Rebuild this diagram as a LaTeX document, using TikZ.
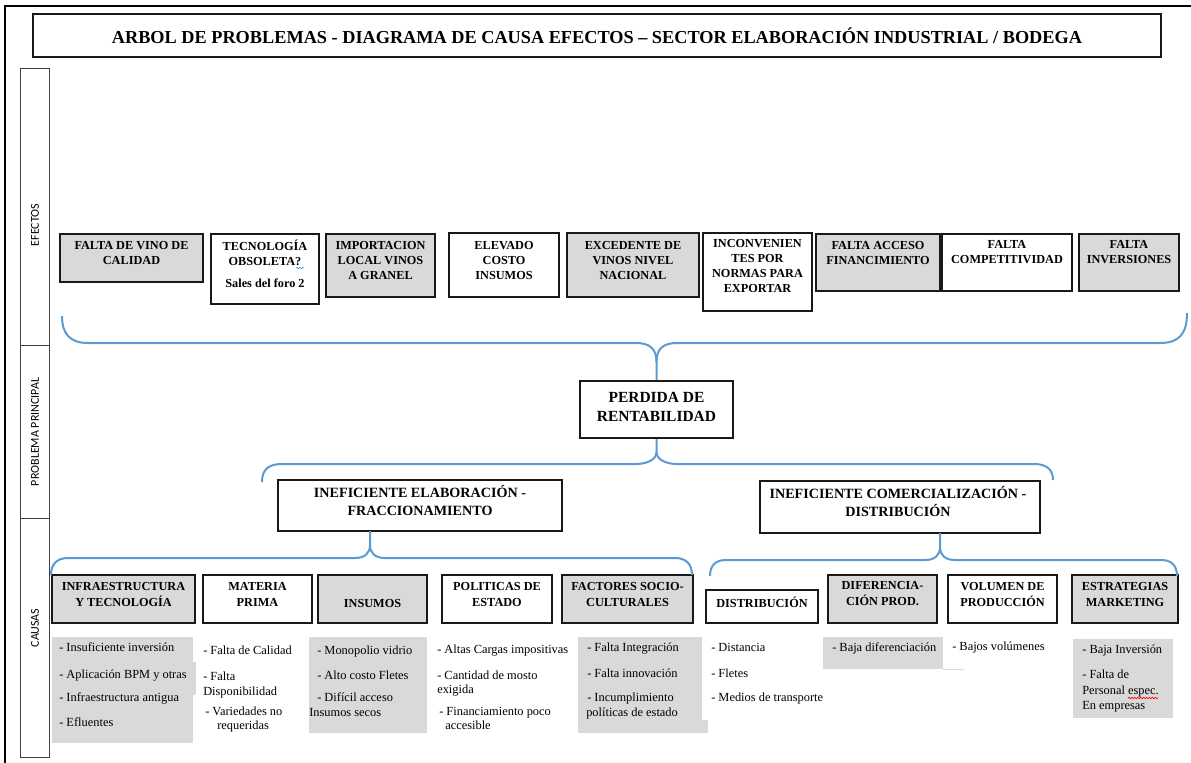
\documentclass[tikz,border=0pt]{standalone}
\usepackage{fontspec}
\setmainfont{Liberation Serif}
\newfontfamily\lblfont{Carlito}
\usetikzlibrary{fit,decorations.pathmorphing}
\definecolor{bgray}{RGB}{217,217,217}
\definecolor{brblue}{RGB}{91,155,213}
\begin{document}
\begin{tikzpicture}[x=0.75pt,y=-0.75pt,
  wbox/.style={draw=black!90,line width=1.5pt,fill=white,inner sep=0pt},
  gbox/.style={wbox,fill=bgray},
  colbox/.style={draw=black!75,line width=0.7pt,inner sep=0pt},
  lbl/.style={rotate=90,inner sep=0pt,font=\lblfont\fontsize{9}{10}\selectfont},
  etxt/.style={font=\bfseries\fontsize{9.2}{11.25}\selectfont,align=center,inner sep=0pt},
  ctxt/.style={font=\bfseries\fontsize{9.2}{12}\selectfont,align=center,inner sep=0pt},
  ltxt/.style={font=\fontsize{9.3}{11}\selectfont,anchor=mid west,inner sep=0pt},
  lbg/.style={fill=bgray,draw=none,inner sep=0pt},
  brace/.style={draw=brblue,line width=1.5pt},
  squig/.style={decorate,decoration={snake,amplitude=0.5pt,segment length=2.2pt},line width=0.5pt}]
\useasboundingbox (0,0) rectangle (1191,763);
\fill[white] (0,0) rectangle (1191,763);
% outer frame
\draw[line width=1pt] (5,763) -- (5,6) -- (1191,6);
% title
\node[wbox,fit={(33,14) (1161,57)}] (title) {};
\node[inner sep=0pt,font=\bfseries\fontsize{13.7}{16}\selectfont] (titlet) at (title.center) {ARBOL DE PROBLEMAS - DIAGRAMA DE CAUSA EFECTOS -- SECTOR ELABORACIÓN INDUSTRIAL / BODEGA};
% left column
\node[colbox,fit={(20,68) (49,345)}] (sefe) {};
\node[colbox,fit={(20,345) (49,518)}] (sprob) {};
\node[colbox,fit={(20,518) (49,757)}] (scau) {};
\node[lbl] (lefe) at (35,225) {EFECTOS};
\node[lbl] (lprob) at (35,432) {PROBLEMA PRINCIPAL};
\node[lbl] (lcau) at (35,628) {CAUSAS};
% effects
\node[gbox,fit={(60,234) (203,282)}] (e1) {};
\node[etxt] (e1t) at (131.5,252.5) {FALTA DE VINO DE\\CALIDAD};
\node[wbox,fit={(211,234) (319,304)}] (e2) {};
\node[etxt] (e2t) at (265,253) {TECNOLOGÍA\\OBSOLETA?};
\node[etxt] (e2s) at (265,283) {Sales del foro 2};
\draw[squig,draw=brblue] (296,268) -- (304,268);
\node[gbox,fit={(326,234) (435,297)}] (e3) {};
\node[etxt] (e3t) at (380.5,260) {IMPORTACION\\LOCAL VINOS\\A GRANEL};
\node[wbox,fit={(449,233) (559,297)}] (e4) {};
\node[etxt] (e4t) at (504,260) {ELEVADO\\COSTO\\INSUMOS};
\node[gbox,fit={(567,233) (699,297)}] (e5) {};
\node[etxt] (e5t) at (633,260) {EXCEDENTE DE\\VINOS NIVEL\\NACIONAL};
\node[wbox,fit={(703,233) (812,311)}] (e6) {};
\node[etxt] (e6t) at (757.5,266) {INCONVENIEN\\TES POR\\NORMAS PARA\\EXPORTAR};
\node[gbox,fit={(816,234) (940,291)}] (e7) {};
\node[etxt] (e7t) at (878,252.5) {FALTA ACCESO\\FINANCIMIENTO};
\node[wbox,fit={(942,234) (1072,291)}] (e8) {};
\node[etxt] (e8t) at (1007,252.5) {FALTA\\COMPETITIVIDAD};
\node[gbox,fit={(1079,234) (1179,291)}] (e9) {};
\node[etxt] (e9t) at (1129,252.5) {FALTA\\INVERSIONES};
% main problem
\node[wbox,fit={(580,381) (733,438)}] (perd) {};
\node[inner sep=0pt,align=center,font=\bfseries\fontsize{11.6}{14.25}\selectfont] (perdt) at (656.5,406.5) {PERDIDA DE\\RENTABILIDAD};
% top brace (effects -> problem)
\coordinate (tbl) at (62,316);
\coordinate (tbr) at (1187,313);
\coordinate (tbm) at (perd.north |- 0,362);
\draw[brace] (tbl) .. controls (62,334) and (70,343) .. (88,343) -- (636,343)
  .. controls (650,343) and (perd.north |- 0,349) .. (tbm) -- (perd.north);
\draw[brace] (tbr) .. controls (1187,334) and (1179,343) .. (1160,343) -- (677,343)
  .. controls (663,343) and (perd.north |- 0,349) .. (tbm);
% sub problems
\node[wbox,fit={(278,480) (562,531)}] (ie1) {};
\node[inner sep=0pt,align=center,font=\bfseries\fontsize{10.6}{13.5}\selectfont] (ie1t) at (420,501) {INEFICIENTE ELABORACIÓN -\\FRACCIONAMIENTO};
\node[wbox,fit={(760,481) (1040,533)}] (ie2) {};
\node[inner sep=0pt,align=center,font=\bfseries\fontsize{10.6}{13.5}\selectfont] (ie2t) at (898,502) {INEFICIENTE COMERCIALIZACIÓN -\\DISTRIBUCIÓN};
% second brace (problem -> sub problems)
\coordinate (sbm) at (perd.south |- 0,452);
\coordinate (sbl) at (262,482);
\coordinate (sbr) at (1053,480);
\draw[brace] (perd.south) -- (sbm) .. controls (perd.south |- 0,460) and (646,464) .. (636,464) -- (282,464)
  .. controls (268,464) and (262,470) .. (sbl);
\draw[brace] (sbm) .. controls (perd.south |- 0,460) and (667,464) .. (677,464) -- (1034,464)
  .. controls (1047,464) and (1053,470) .. (sbr);
% cause boxes
\node[gbox,fit={(52,575) (195,623)}] (c1) {};
\node[ctxt] (c1t) at (123.5,594) {INFRAESTRUCTURA\\Y TECNOLOGÍA};
\node[wbox,fit={(203,575) (312,623)}] (c2) {};
\node[ctxt] (c2t) at (257.5,594) {MATERIA\\PRIMA};
\node[gbox,fit={(318,575) (427,623)}] (c3) {};
\node[ctxt] (c3t) at (372.5,603) {INSUMOS};
\node[wbox,fit={(442,575) (552,623)}] (c4) {};
\node[ctxt] (c4t) at (497,594) {POLITICAS DE\\ESTADO};
\node[gbox,fit={(562,575) (693,623)}] (c5) {};
\node[ctxt] (c5t) at (627.5,594) {FACTORES SOCIO-\\CULTURALES};
\node[wbox,fit={(706,590) (818,623)}] (c6) {};
\node[ctxt] (c6t) at (762,602) {DISTRIBUCIÓN};
\node[gbox,fit={(828,575) (937,623)}] (c7) {};
\node[ctxt] (c7t) at (882.5,594) {DIFERENCIA-\\CIÓN PROD.};
\node[wbox,fit={(948,575) (1057,623)}] (c8) {};
\node[ctxt] (c8t) at (1002.5,594) {VOLUMEN DE\\PRODUCCIÓN};
\node[gbox,fit={(1072,575) (1178,623)}] (c9) {};
\node[ctxt] (c9t) at (1125,594) {ESTRATEGIAS\\MARKETING};
% cause braces
\coordinate (lbtop) at (370,531);
\coordinate (lbm) at (370,545);
\coordinate (lbl) at (51,575);
\coordinate (lbr) at (692,575);
\draw[brace] (lbtop) -- (lbm) .. controls (370,553) and (365,558) .. (355,558) -- (68,558)
  .. controls (57,558) and (51,564) .. (lbl);
\draw[brace] (lbm) .. controls (370,553) and (375,558) .. (385,558) -- (675,558)
  .. controls (686,558) and (692,564) .. (lbr);
\coordinate (rbtop) at (940,533);
\coordinate (rbm) at (940,547);
\coordinate (rbl) at (710,576);
\coordinate (rbr) at (1177,576);
\draw[brace] (rbtop) -- (rbm) .. controls (940,555) and (935,560) .. (925,560) -- (726,560)
  .. controls (715,560) and (710,566) .. (rbl);
\draw[brace] (rbm) .. controls (940,555) and (945,560) .. (955,560) -- (1161,560)
  .. controls (1172,560) and (1177,566) .. (rbr);
% list backgrounds
\node[lbg,fit={(52,637) (193,743)}] (lb1) {};
\node[lbg,fit={(193,662) (196,695)}] (lb1b) {};
\node[lbg,fit={(309,637) (427,733)}] (lb3) {};
\node[lbg,fit={(578,637) (702,733)}] (lb5) {};
\node[lbg,fit={(702,720) (708,733)}] (lb5b) {};
\node[lbg,fit={(823,637) (943,669)}] (lb7) {};
\draw[bgray,line width=0.8pt] (lb7.south east) -- ++(21,0);
\node[lbg,fit={(1073,639) (1173,718)}] (lb9) {};
% lists
\node[ltxt] (l11) at (59,648) {- Insuficiente inversión};
\node[ltxt] (l12) at (59,675) {- Aplicación BPM y otras};
\node[ltxt] (l13) at (59,698) {- Infraestructura antigua};
\node[ltxt] (l14) at (59,723) {- Efluentes};
\node[ltxt] (l21) at (203,651) {- Falta de Calidad};
\node[ltxt] (l22) at (203,677) {- Falta};
\node[ltxt] (l23) at (203,692) {Disponibilidad};
\node[ltxt] (l24) at (205,712) {- Variedades no};
\node[ltxt] (l25) at (217,726) {requeridas};
\node[ltxt] (l31) at (317,651) {- Monopolio vidrio};
\node[ltxt] (l32) at (317,676) {- Alto costo Fletes};
\node[ltxt] (l33) at (317,698) {- Difícil acceso};
\node[ltxt] (l34) at (309,713) {Insumos secos};
\node[ltxt] (l41) at (437,650) {- Altas Cargas impositivas};
\node[ltxt] (l42) at (437,676) {- Cantidad de mosto};
\node[ltxt] (l43) at (437,690) {exigida};
\node[ltxt] (l44) at (439,712) {- Financiamiento poco};
\node[ltxt] (l45) at (445,726) {accesible};
\node[ltxt] (l51) at (587,648) {- Falta Integración};
\node[ltxt] (l52) at (587,674) {- Falta innovación};
\node[ltxt] (l53) at (587,698) {- Incumplimiento};
\node[ltxt] (l54) at (586,713) {políticas de estado};
\node[ltxt] (l61) at (711,648) {- Distancia};
\node[ltxt] (l62) at (711,674) {- Fletes};
\node[ltxt] (l63) at (711,698) {- Medios de transporte};
\node[ltxt] (l71) at (832,648) {- Baja diferenciación};
\node[ltxt] (l81) at (952,647) {- Bajos volúmenes};
\node[ltxt] (l91) at (1082,650) {- Baja Inversión};
\node[ltxt] (l92) at (1082,675) {- Falta de};
\node[ltxt] (l93) at (1082,691) {Personal espec.};
\node[ltxt] (l94) at (1082,706) {En empresas};
\draw[squig,draw=red] (1128,698) -- (1158,698);
\end{tikzpicture}
\end{document}
